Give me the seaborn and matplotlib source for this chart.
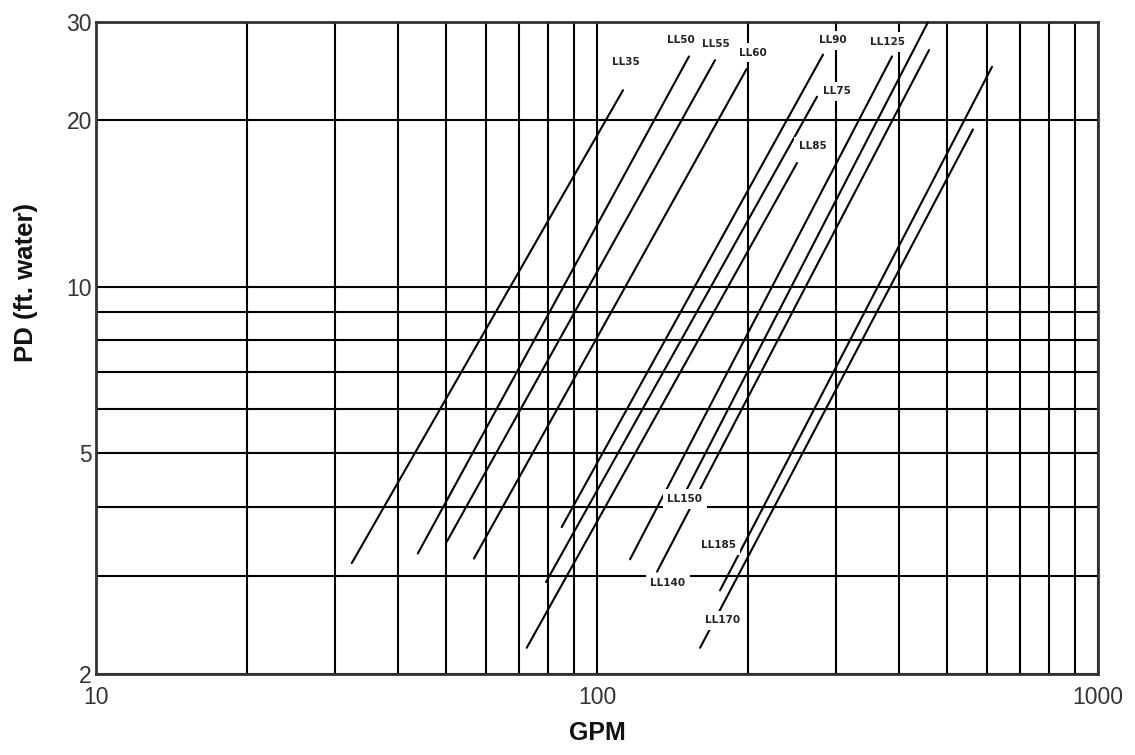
import matplotlib
matplotlib.use("Agg")
import matplotlib.pyplot as plt
import pandas as pd
import seaborn as sns
from matplotlib.ticker import FixedLocator, FixedFormatter, NullFormatter

# coil models (GPM / PD end points of each line)
models = ["LL35", "LL50", "LL55", "LL60", "LL85", "LL75",
          "LL90", "LL125", "LL150", "LL140", "LL185", "LL170"]
gpm_low = [32.4, 43.9, 50.1, 56.8, 72.4, 79.1, 85.0, 116.4, 147.1, 131.8, 176.0, 160.6]
pd_low = [3.17, 3.30, 3.46, 3.23, 2.23, 2.93, 3.68, 3.22, 4.11, 3.06, 2.83, 2.23]
gpm_high = [112.7, 152.6, 172.0, 199.0, 250.7, 274.9, 282.6, 388.0, 457.9, 460.0, 614.4, 562.9]
pd_high = [22.6, 26.0, 25.6, 24.7, 16.7, 22.0, 26.2, 26.0, 30.0, 26.7, 24.9, 19.2]

# where each model name is written
label_gpm = [114.3, 147.1, 172.8, 204.8, 269.8, 301.3, 295.9, 379.2, 149.8, 138.6, 174.4, 178.4]
label_pd = [25.4, 27.8, 27.4, 26.4, 17.9, 22.5, 27.8, 27.6, 4.14, 2.92, 3.42, 2.50]

x_major = [10, 100, 1000]
x_minor = [20, 30, 40, 50, 60, 70, 80, 90, 200, 300, 400, 500, 600, 700, 800, 900]
y_major = [2, 5, 10, 20, 30]
y_minor = [3, 4, 6, 7, 8, 9]

df = pd.DataFrame({
    "model": models + models,
    "gpm": gpm_low + gpm_high,
    "pd": pd_low + pd_high,
})

sns.set_theme(style="white")
plt.rcParams["font.family"] = ["Liberation Sans", "DejaVu Sans"]

fig = plt.figure(figsize=(11.35, 7.55), dpi=100)
ax = fig.add_axes([96 / 1135, 1 - 674 / 755, 1002 / 1135, 652 / 755])
ax.set_xscale("log")
ax.set_yscale("log")

sns.lineplot(data=df, x="gpm", y="pd", units="model", estimator=None,
             color="black", lw=1.5, ax=ax, zorder=3, legend=False)

ax.set_xlim(10, 1000)
ax.set_ylim(2, 30)

ax.xaxis.set_major_locator(FixedLocator(x_major))
ax.xaxis.set_major_formatter(FixedFormatter([str(v) for v in x_major]))
ax.xaxis.set_minor_locator(FixedLocator(x_minor))
ax.xaxis.set_minor_formatter(NullFormatter())
ax.yaxis.set_major_locator(FixedLocator(y_major))
ax.yaxis.set_major_formatter(FixedFormatter([str(v) for v in y_major]))
ax.yaxis.set_minor_locator(FixedLocator(y_minor))
ax.yaxis.set_minor_formatter(NullFormatter())

ax.grid(which="both", color="black", lw=1.5)
ax.tick_params(which="both", length=0, labelsize=16.5, labelcolor="#333333")
ax.tick_params(axis="x", pad=9)
ax.tick_params(axis="y", pad=3)
for s in ax.spines.values():
    s.set_color("#333333")
    s.set_linewidth(2)

for name, gx, py in zip(models, label_gpm, label_pd):
    ax.text(gx, py, name, ha="center", va="center", fontsize=7.5,
            fontweight="bold", family="DejaVu Sans", color="#222222",
            bbox=dict(boxstyle="square,pad=0.45", fc="white", ec="none"),
            zorder=5)

ax.set_xlabel("GPM", fontsize=18, fontweight="bold", color="#111111")
ax.set_ylabel("PD (ft. water)", fontsize=18.5, fontweight="bold", color="#111111")
ax.xaxis.set_label_coords(0.5, -0.072)
ax.yaxis.set_label_coords(-0.058, 0.60)

fig.savefig("out.png", dpi=100)
